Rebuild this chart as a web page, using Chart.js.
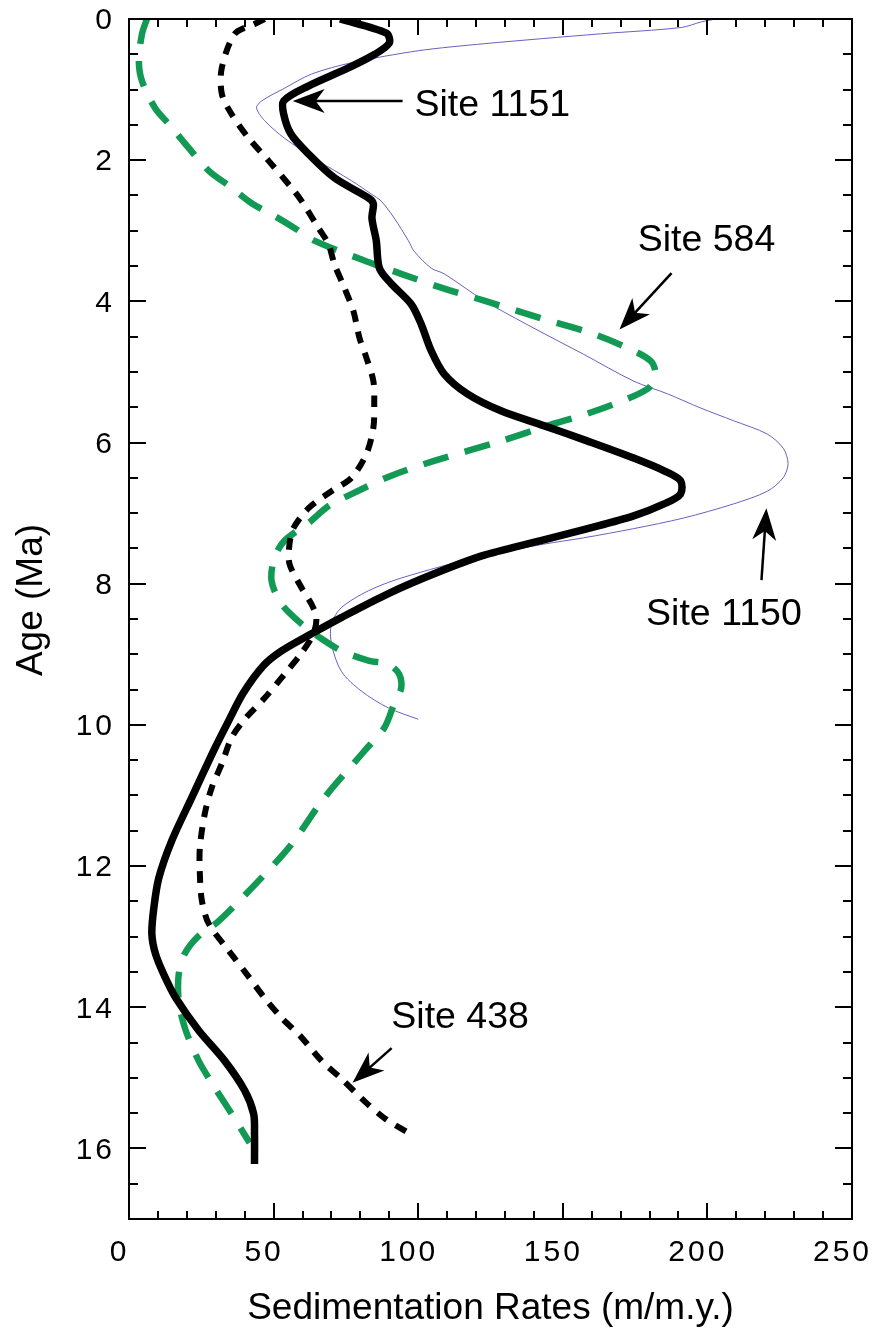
<!DOCTYPE html>
<html><head><meta charset="utf-8">
<script src="https://cdn.jsdelivr.net/npm/chart.js@4.4.1/dist/chart.umd.min.js"></script>
<style>html,body{margin:0;padding:0;background:#fff;}canvas{display:block;}</style>
</head><body>
<canvas id="c" width="876" height="1336"></canvas>
<script>
// ---- Data (rate in m/m.y., age in Ma) ----
const site1151Age  = [0,0.2,0.34,0.5,0.69,0.95,1.16,1.35,1.63,1.91,2.25,2.54,2.62,2.82,3.14,3.53,3.75,4.04,4.32,4.70,5.03,5.31,5.55,5.76,5.98,6.22,6.40,6.54,6.73,6.87,7.04,7.22,7.39,7.61,7.86,8.14,8.48,8.71,8.96,9.17,9.55,9.94,10.33,11.03,11.64,12.17,12.59,12.96,13.25,13.55,13.87,14.33,14.76,15.18,15.51,15.79,16.22];
const site1151Rate = [73,89,90,85,76,62,53.5,53.5,56,62,71,83,84.5,84,85.5,86.6,90.7,97.6,101,104.5,109,117,128.6,143.4,158.6,174.5,185,190.7,190.7,185,174.5,158.6,142.4,121.7,105.5,89.7,73.4,63.1,52.5,46.3,39.5,34.5,29.7,21.7,14.8,10.3,8.6,7.9,9.2,12.2,16.2,24.1,33.1,40,43.1,43.4,43.4];

const site1150Age  = [0,0.04,0.12,0.21,0.35,0.45,0.62,0.78,0.98,1.16,1.26,1.44,1.69,2.01,2.29,2.48,2.58,2.82,3.14,3.29,3.53,3.61,3.99,4.38,4.75,5.13,5.31,5.51,5.69,5.88,6.08,6.30,6.50,6.69,6.87,7.07,7.22,7.35,7.44,7.61,7.92,8.10,8.34,8.57,8.85,9.24,9.52,9.76,9.92];
const site1150Rate = [203,198,191,163,122.8,100,76.9,63.1,53.8,45.9,44.1,46.9,53.8,65.5,76.9,83.8,87.2,91.7,96.6,98.6,104.5,109,122.8,140,157.2,174.5,186.2,197.6,209,220.7,226.2,227.9,226.2,220.7,209,191.7,174.5,157.2,143.4,121.7,94.1,82.8,73.4,70,70,73.4,80.3,89.7,100];

const site438Age  = [0,0.07,0.21,0.69,1.06,1.35,1.69,2.01,2.39,2.58,2.96,3.19,3.47,3.81,4.14,4.52,4.80,5.13,5.45,5.79,6.16,6.50,6.69,6.93,7.21,7.44,7.72,8.06,8.29,8.48,8.71,8.98,9.28,9.62,9.92,10.18,10.55,10.89,11.26,11.74,12.11,12.49,12.82,13.20,13.53,13.87,14.15,14.43,14.76,15.01,15.33,15.57,15.78];
const site438Rate = [46.9,43.4,36.6,32.1,32.1,35.5,41.4,48.3,56.2,59.7,65.5,69,71,74.5,77.6,79.7,82.1,84.5,84.8,84.5,82.1,76.9,70,62.1,56.9,55.5,55.5,59.7,63.1,64.8,63.8,59.7,53.8,46.9,40,35.5,32.1,28.6,26.2,24.5,24.5,25.2,27.6,34.5,40.7,46.9,52.8,59.7,66.6,73.4,81.4,88.3,96.6];

const site584Age  = [0,0.21,0.59,0.88,1.26,1.49,1.83,2.15,2.39,2.61,2.79,2.96,3.14,3.39,3.61,3.82,3.99,4.24,4.45,4.66,4.84,4.99,5.13,5.24,5.38,5.59,5.76,5.98,6.26,6.47,6.73,6.90,7.14,7.39,7.63,7.96,8.29,8.57,8.78,8.95,9.09,9.14,9.28,9.48,9.70,10.04,10.37,11.03,11.69,12.21,12.78,12.99,13.24,13.53,13.91,14.29,14.76,15.14,15.51,15.92];
const site584Rate = [6.2,4.5,3.4,4.5,9,13.8,20.7,27.6,35.5,42.4,50.3,57.2,64.1,79.3,94.1,109,122.8,142.4,159.7,172.4,180.3,182,181.4,179.3,172.4,158.6,144.8,128.6,105.5,90.7,76.9,69,62.1,53.8,50.3,49.3,52.8,59.7,66.6,73.4,82.8,89.7,93.4,94.1,91.7,88.3,81.4,67.6,56.2,44.8,31,24.1,19.3,17.2,17.2,19.3,24.1,29.7,35.5,41.7];

const xTickValues = [0,50,100,150,200,250];
const yTickValues = [0,2,4,6,8,10,12,14,16];
const xAxisTitle = 'Sedimentation Rates (m/m.y.)';
const yAxisTitle = 'Age (Ma)';

// annotation labels: text, label anchor (rate, age of baseline), arrow tail, arrow tip
const labelTexts = ['Site 1151','Site 584','Site 1150','Site 438'];
const labelRate  = [98.7,175.9,178.8,90.7];
const labelAge   = [1.38,3.29,8.58,14.30];
const arrowTail  = [[94.6,1.16],[187.6,3.60],[218.7,7.95],[90.8,14.58]];
const arrowTip   = [[56.6,1.16],[169.6,4.40],[220.4,6.93],[77.3,15.07]];

// ---- styles ----
const FONT = "'Liberation Sans', Arial, Helvetica, sans-serif";
const GREEN = '#129a55';
const PURPLE = '#6a5fc1';

const pts = (r, a) => r.map((v, i) => ({x: v, y: a[i]}));

function drawArrow(ctx, x1, y1, x2, y2) {
  const ang = Math.atan2(y2 - y1, x2 - x1);
  const c = Math.cos(ang), s = Math.sin(ang);
  const L = 32, W = 12, N = 23;
  const p = (d, w) => [x2 - d * c - w * s, y2 - d * s + w * c];
  ctx.beginPath();
  ctx.moveTo(x1, y1);
  const b = p(N - 2, 0);
  ctx.lineTo(b[0], b[1]);
  ctx.lineWidth = 2.5;
  ctx.strokeStyle = '#000';
  ctx.stroke();
  ctx.beginPath();
  ctx.moveTo(x2, y2);
  let q = p(L, W); ctx.lineTo(q[0], q[1]);
  q = p(N, 0); ctx.lineTo(q[0], q[1]);
  q = p(L, -W); ctx.lineTo(q[0], q[1]);
  ctx.closePath();
  ctx.fillStyle = '#000';
  ctx.fill();
}

const framePlugin = {
  id: 'frame',
  beforeDraw(chart) {
    chart.ctx.letterSpacing = '0px';
  },
  afterDatasetsDraw(chart) {
    const {ctx, chartArea: a, scales: {x, y}} = chart;
    ctx.save();
    ctx.letterSpacing = '0px';
    ctx.strokeStyle = '#000';
    ctx.lineWidth = 2;
    ctx.strokeRect(a.left, a.top, a.right - a.left, a.bottom - a.top);
    ctx.beginPath();
    for (let v = 0; v <= 250; v += 10) {
      const px = Math.round(x.getPixelForValue(v));
      const len = v % 50 === 0 ? 16 : 8;
      ctx.moveTo(px, a.bottom); ctx.lineTo(px, a.bottom - len);
      ctx.moveTo(px, a.top); ctx.lineTo(px, a.top + len);
    }
    for (let k = 0; k <= 34; k++) {
      const v = k / 2;
      const py = Math.round(y.getPixelForValue(v));
      const len = (k % 4 === 0) ? 17 : 9;
      ctx.moveTo(a.left, py); ctx.lineTo(a.left + len, py);
      ctx.moveTo(a.right, py); ctx.lineTo(a.right - len, py);
    }
    ctx.stroke();
    // annotations
    ctx.font = '37.5px ' + FONT;
    ctx.fillStyle = '#000';
    ctx.textAlign = 'left';
    ctx.textBaseline = 'alphabetic';
    for (let i = 0; i < labelTexts.length; i++) {
      ctx.fillText(labelTexts[i], x.getPixelForValue(labelRate[i]), y.getPixelForValue(labelAge[i]));
      drawArrow(ctx,
        x.getPixelForValue(arrowTail[i][0]), y.getPixelForValue(arrowTail[i][1]),
        x.getPixelForValue(arrowTip[i][0]), y.getPixelForValue(arrowTip[i][1]));
    }
    // y axis title
    ctx.save();
    ctx.translate(32, (a.top + a.bottom) / 2 - 19);
    ctx.rotate(-Math.PI / 2);
    ctx.font = '37px ' + FONT;
    ctx.textAlign = 'center';
    ctx.textBaseline = 'middle';
    ctx.fillText(yAxisTitle, 0, 0);
    ctx.restore();
    ctx.restore();
    ctx.letterSpacing = '3px';
  },
  afterDraw(chart) {
    chart.ctx.letterSpacing = '0px';
  }
};

new Chart(document.getElementById('c'), {
  type: 'scatter',
  data: {
    datasets: [
      {label: 'Site 438', data: pts(site438Rate, site438Age), showLine: true, borderColor: '#000',
       borderWidth: 6, borderDash: [12, 10], borderCapStyle: 'butt', pointRadius: 0, tension: 0.3, fill: false},
      {label: 'Site 1151', data: pts(site1151Rate, site1151Age), showLine: true, borderColor: '#000',
       borderWidth: 7.5, borderCapStyle: 'butt', borderJoinStyle: 'round', pointRadius: 0, tension: 0.3, fill: false},
      {label: 'Site 584', data: pts(site584Rate, site584Age), showLine: true, borderColor: GREEN,
       borderWidth: 6.5, borderDash: [26, 17], borderCapStyle: 'butt', pointRadius: 0, tension: 0.3, fill: false},
      {label: 'Site 1150', data: pts(site1150Rate, site1150Age), showLine: true, borderColor: PURPLE,
       borderWidth: 1, pointRadius: 0, tension: 0.3, fill: false}
    ]
  },
  options: {
    responsive: false,
    animation: false,
    devicePixelRatio: 1,
    layout: {padding: {top: 19, right: 24, left: 0, bottom: 0}, autoPadding: false},
    plugins: {legend: {display: false}, tooltip: {enabled: false}},
    scales: {
      x: {
        type: 'linear', position: 'bottom', min: 0, max: 250,
        afterBuildTicks: s => { s.ticks = xTickValues.map(v => ({value: v})); },
        afterFit: s => { s.height = 117; s.paddingLeft = 0; s.paddingRight = 0; },
        grid: {display: false, drawTicks: false},
        border: {display: false},
        ticks: {font: {family: FONT, size: 30}, color: '#000', padding: 16, labelOffset: -9.5,
                maxRotation: 0, autoSkip: false, z: 1},
        title: {display: true, text: xAxisTitle, color: '#000', font: {family: FONT, size: 37},
                padding: {top: 0, bottom: 5}}
      },
      y: {
        type: 'linear', position: 'left', min: 0, max: 17, reverse: true,
        afterBuildTicks: s => { s.ticks = yTickValues.map(v => ({value: v})); },
        afterFit: s => { s.width = 129; s.paddingTop = 0; s.paddingBottom = 0; },
        grid: {display: false, drawTicks: false},
        border: {display: false},
        ticks: {font: {family: FONT, size: 30}, color: '#000', padding: 14, labelOffset: 2, autoSkip: false, z: 1},
        title: {display: false, text: yAxisTitle}
      }
    }
  },
  plugins: [framePlugin]
});
</script>
</body></html>
